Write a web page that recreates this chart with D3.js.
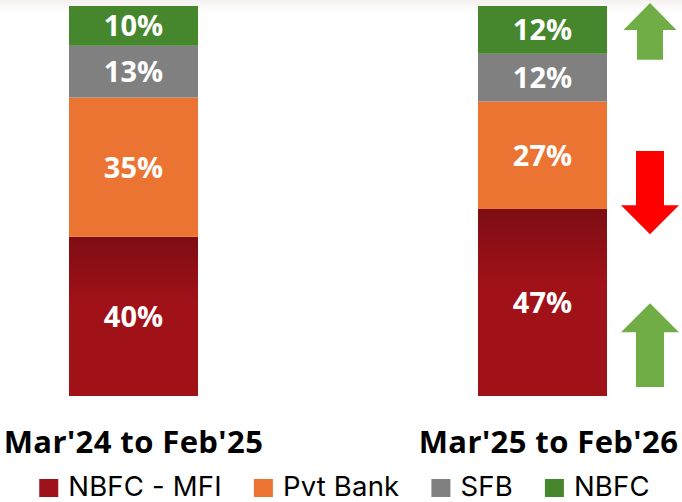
<!DOCTYPE html>
<html>
<head>
<meta charset="utf-8">
<script src="https://cdn.jsdelivr.net/npm/d3@7"></script>
<style>
  body { margin: 0; background: #fff; }
  svg { display: block; }
</style>
</head>
<body>
<svg id="chart" width="682" height="502"></svg>
<script>
// Data
const periods = ["Mar'24 to Feb'25", "Mar'25 to Feb'26"];
const lenders = ["NBFC - MFI", "Pvt Bank", "SFB", "NBFC"];
const shareMFI = [40, 47];
const sharePvt = [35, 27];
const shareSFB = [13, 12];
const shareNBFC = [10, 12];
const colors = ["url(#mfiGrad)", "#EC7432", "#808080", "#46862C"];
const legendColors = ["#9E1219", "#EC7432", "#808080", "#46862C"];

// arrows next to the second bar: direction and extent (share of the bar)
const arrowDir = ["up", "down", "up"];
const arrowTop = [1.008, 0.628, 0.238];
const arrowBottom = [0.862, 0.415, 0.023];
const arrowColor = ["#70AD47", "#FF0000", "#70AD47"];

const svg = d3.select('#chart');
const width = 682;

const rows = periods.map((p, i) => ({
  period: p,
  "NBFC - MFI": shareMFI[i],
  "Pvt Bank": sharePvt[i],
  "SFB": shareSFB[i],
  "NBFC": shareNBFC[i]
}));

const stacked = d3.stack().keys(lenders).offset(d3.stackOffsetExpand)(rows);

const x = d3.scalePoint().domain(periods).range([133.5, 542.5]);
const barW = 129;
const y = d3.scaleLinear().domain([0, 1]).range([396, 6]);

// faint band at the very top
const defs = svg.append('defs');
const topGrad = defs.append('linearGradient').attr('id', 'topGrad')
  .attr('x1', 0).attr('x2', 0).attr('y1', 0).attr('y2', 1);
topGrad.append('stop').attr('offset', '0%').attr('stop-color', '#f6f1f1');
topGrad.append('stop').attr('offset', '100%').attr('stop-color', '#ffffff');
svg.append('rect').attr('x', 0).attr('y', 0).attr('width', width).attr('height', 14)
  .attr('fill', 'url(#topGrad)');

const mfiGrad = defs.append('linearGradient').attr('id', 'mfiGrad')
  .attr('x1', 0).attr('x2', 0).attr('y1', 0).attr('y2', 1);
mfiGrad.append('stop').attr('offset', '0%').attr('stop-color', '#7D0E13');
mfiGrad.append('stop').attr('offset', '40%').attr('stop-color', '#A01118');
mfiGrad.append('stop').attr('offset', '100%').attr('stop-color', '#A11118');

const layers = svg.append('g').selectAll('g')
  .data(stacked)
  .enter().append('g')
  .attr('fill', (d, i) => colors[i]);

layers.selectAll('rect')
  .data(d => d.map(s => ({ s, key: d.key })))
  .enter().append('rect')
  .attr('x', d => x(d.s.data.period) - barW / 2)
  .attr('y', d => y(d.s[1]))
  .attr('width', barW)
  .attr('height', d => y(d.s[0]) - y(d.s[1]));

layers.selectAll('text')
  .data(d => d.map(s => ({ s, key: d.key })))
  .enter().append('text')
  .attr('x', d => x(d.s.data.period))
  .attr('y', d => (y(d.s[0]) + y(d.s[1])) / 2)
  .attr('dy', '0.36em')
  .attr('text-anchor', 'middle')
  .attr('fill', '#fff')
  .style('font-family', '"Open Sans", sans-serif')
  .style('font-weight', 700)
  .style('font-size', '29px')
  .text(d => d.s.data[d.key] + '%');

// category labels
svg.append('g').selectAll('text')
  .data(periods)
  .enter().append('text')
  .attr('x', (d, i) => x(d) + (i === 1 ? 6 : 0))
  .attr('y', 453)
  .attr('text-anchor', 'middle')
  .attr('fill', '#000')
  .style('font-family', '"Open Sans", sans-serif')
  .style('font-weight', 700)
  .style('font-size', '31px')
  .style('letter-spacing', '0.4px')
  .text(d => d);

// arrows
const ax = 650;
const arrowG = svg.append('g');
arrowDir.forEach((dir, i) => {
  const y0 = y(arrowTop[i]);
  const y1 = y(arrowBottom[i]);
  const small = i === 0;
  const headW = small ? 53 : 58;
  const shaftW = small ? 26 : 28;
  const headL = small ? 27 : 29;
  let pts;
  if (dir === 'up') {
    pts = [[ax, y0], [ax + headW / 2, y0 + headL], [ax + shaftW / 2, y0 + headL],
      [ax + shaftW / 2, y1], [ax - shaftW / 2, y1], [ax - shaftW / 2, y0 + headL],
      [ax - headW / 2, y0 + headL]];
  } else {
    pts = [[ax - shaftW / 2, y0], [ax + shaftW / 2, y0], [ax + shaftW / 2, y1 - headL],
      [ax + headW / 2, y1 - headL], [ax, y1], [ax - headW / 2, y1 - headL],
      [ax - shaftW / 2, y1 - headL]];
  }
  arrowG.append('path')
    .attr('d', d3.line()(pts) + 'Z')
    .attr('fill', arrowColor[i]);
});

// legend
const legend = svg.append('g');
let lx = 0;
lenders.forEach((name, i) => {
  const g = legend.append('g');
  g.append('rect').attr('x', lx).attr('y', 479).attr('width', 19).attr('height', 18)
    .attr('fill', legendColors[i]);
  const t = g.append('text')
    .attr('x', lx + 29)
    .attr('y', 496)
    .attr('fill', '#000')
    .style('font-family', 'Inter, sans-serif')
    .style('font-size', '27.5px')
    .style('letter-spacing', '0.2px')
    .text(name);
  const w = t.node().getComputedTextLength();
  lx += 29 + w + 32;
});
const totalW = lx - 32;
legend.attr('transform', `translate(${344.5 - totalW / 2},0)`);
</script>
</body>
</html>
